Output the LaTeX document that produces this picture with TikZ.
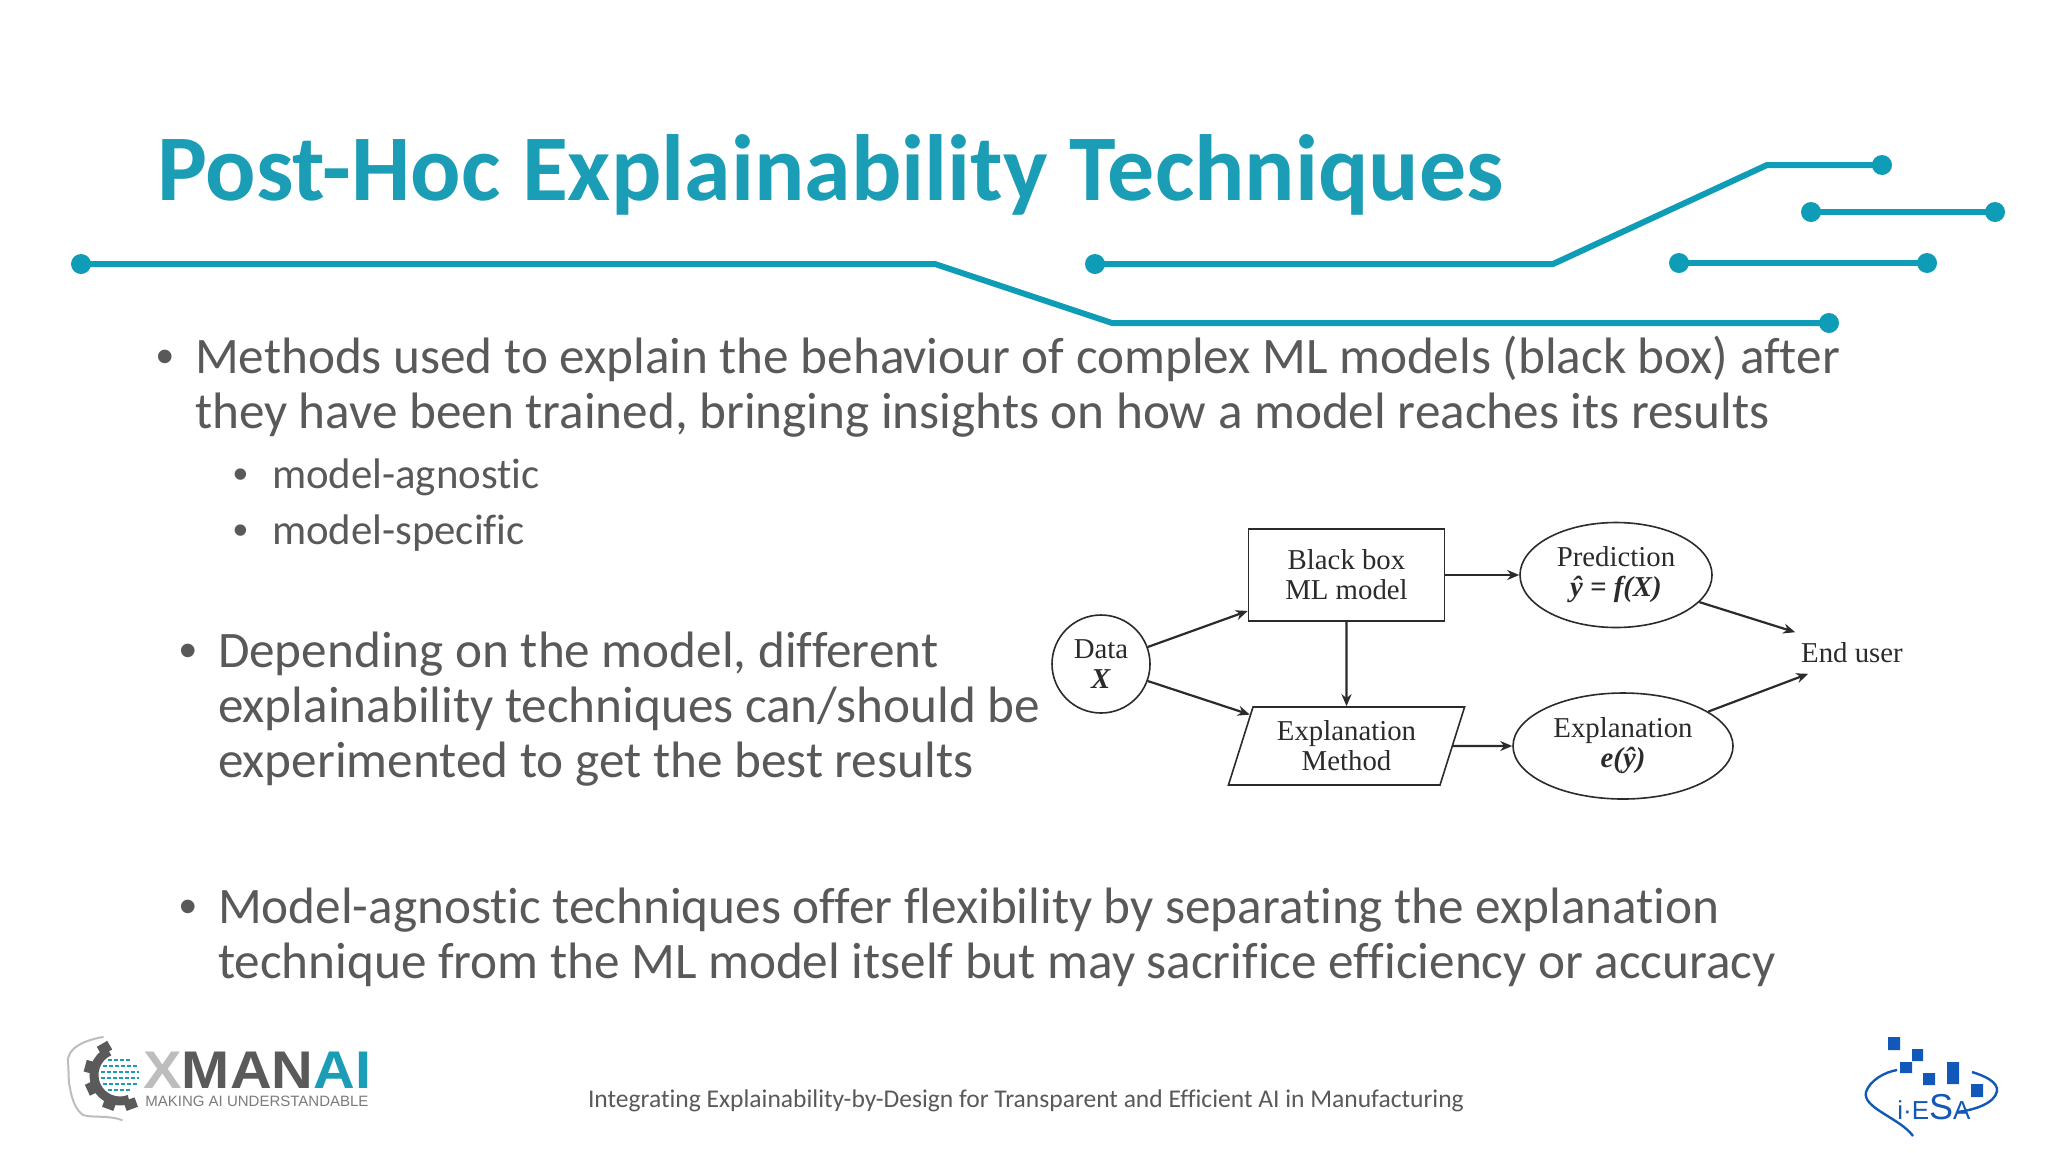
\documentclass[tikz,border=0pt]{standalone}
\usepackage{fontspec}
\usepackage{graphicx}
\setmainfont[Ligatures=CommonOff]{Carlito}
\newfontfamily\serifdiag{Liberation Serif}
\newfontfamily\logofont{Liberation Sans}
\usetikzlibrary{shapes.geometric,arrows.meta,calc}
\definecolor{teal1}{HTML}{1A9DB5}
\definecolor{trace}{HTML}{0E9CB6}
\definecolor{bodygray}{HTML}{595959}
\definecolor{ink}{HTML}{2B2B2B}
\definecolor{iesablue}{HTML}{1258B8}
\definecolor{xdark}{HTML}{5A5A5A}
\definecolor{xlight}{HTML}{BDBDBD}
\tikzset{
  x=0.5pt,y=-0.5pt,
  txt/.style={anchor=base west,inner sep=0pt,outer sep=0pt,text=bodygray},
  titletext/.style={txt,text=teal1,font=\fontsize{47}{50}\selectfont\bfseries},
  mainline/.style={txt,font=\fontsize{25.6}{29}\selectfont},
  subline/.style={txt,font=\fontsize{21.4}{25}\selectfont},
  mainbullet/.style={txt,font=\logofont\fontsize{25}{29}\selectfont},
  subbullet/.style={txt,font=\logofont\fontsize{21}{25}\selectfont},
  foot/.style={txt,font=\fontsize{12.77}{15}\selectfont},
  tracewire/.style={draw=trace,line width=3pt},
  dotend/.style={fill=trace,draw=none},
  diag/.style={draw=ink,line width=0.8pt,align=center,text=ink,inner sep=0pt,font=\serifdiag\fontsize{14.4}{15}\selectfont},
  conn/.style={draw=ink,line width=1.1pt,-{Stealth[length=6pt,width=5pt]}},
}
\begin{document}
\begin{tikzpicture}
\useasboundingbox[fill=white] (0,0) rectangle (2048,1152);
% circuit traces
\draw[tracewire] (81,264) -- (935,264) -- (1112,323) -- (1829,323);
\draw[tracewire] (1095,264) -- (1553,264) -- (1767,165) -- (1882,165);
\draw[tracewire] (1811,212) -- (1995,212);
\draw[tracewire] (1679,263) -- (1927,263);
\foreach \p in {(81,264),(1829,323),(1095,264),(1882,165),(1811,212),(1995,212),(1679,263),(1927,263)}
  \fill[dotend] \p circle (5pt);
% texts
\node[titletext] (title) at (157,200) {Post-Hoc Explainability Techniques};
\node[mainbullet] (b1) at (156,373) {•};
\node[mainline] (t1a) at (195,373) {Methods used to explain the behaviour of complex ML models (black box) after};
\node[mainline] (t1b) at (195,428) {they have been trained, bringing insights on how a model reaches its results};
\node[subbullet] (b1a) at (233,488) {•};
\node[subline] (t1c) at (272,488) {model-agnostic};
\node[subbullet] (b1b) at (233,544) {•};
\node[subline] (t1d) at (272,544) {model-specific};
\node[mainbullet] (b2) at (179,667) {•};
\node[mainline] (t2a) at (218,667) {Depending on the model, different};
\node[mainline] (t2b) at (218,722) {explainability techniques can/should be};
\node[mainline] (t2c) at (218,777) {experimented to get the best results};
\node[mainbullet] (b3) at (179,923) {•};
\node[mainline] (t3a) at (218,923) {Model-agnostic techniques offer flexibility by separating the explanation};
\node[mainline] (t3b) at (218,978) {technique from the ML model itself but may sacrifice efficiency or accuracy};
\node[foot] (footer) at (588,1107) {Integrating Explainability-by-Design for Transparent and Efficient AI in Manufacturing};
% diagram
\node[diag,circle,minimum size=49pt] (data) at (1101,664) {Data\\\textbf{\textit{X}}};
\node[diag,rectangle,minimum width=98pt,minimum height=46pt] (bb) at (1346.5,575) {Black box\\ML model};
\node[diag,ellipse,minimum width=96pt,minimum height=52.5pt] (pred) at (1616,575) {Prediction\\\textbf{\textit{ŷ = f(X)}}};
\node[diag,trapezium,trapezium left angle=70,trapezium right angle=110,minimum width=119pt,minimum height=39pt,trapezium stretches=true] (meth) at (1346.5,746) {Explanation\\Method};
\node[diag,ellipse,minimum width=110pt,minimum height=53pt] (expl) at (1623,746) {Explanation\\\textbf{\textit{e(ŷ)}}};
\node[diag,draw=none,minimum width=56pt,minimum height=20pt] (enduser) at (1852,653) {End user};
\draw[conn] (data.20) -- (bb.200);
\draw[conn] (data.-20) -- (meth.162);
\draw[conn] (bb.south) -- (meth.north);
\draw[conn] (bb.east) -- (pred.west);
\draw[conn] (meth.east) -- (expl.west);
\draw[conn] (pred.-18) -- (enduser.north west);
\draw[conn] (expl.22) -- ([xshift=6.5pt]enduser.south west);
% XMANAI logo
\draw[xlight,line width=1pt,line cap=round] (103,1037) .. controls (85,1040) and (66,1048) .. (68,1063) .. controls (69,1072) and (68,1080) .. (70,1088) .. controls (72,1100) and (76,1110) .. (83,1115) .. controls (92,1118) and (108,1115) .. (122,1120);
\foreach \a in {120,165,205,250,290}
  \fill[xdark,rotate around={\a:(120,1075)}] (146,1069) rectangle (156,1081);
\draw[xdark,line width=4.5pt] (109,1051.4) arc[start angle=-115,delta angle=-175,radius=26];
\foreach \yy/\rr in {1060/12,1066/17,1072/19,1078/19,1084/17,1090/12}
  \draw[teal1,line width=1.2pt,dash pattern=on 2pt off 1pt] ({120-\rr},\yy) -- ({120+\rr},\yy);
\node[anchor=base west,inner sep=0pt,font=\logofont\bfseries\fontsize{26.5}{27}\selectfont] (xlogo) at (143,1088) {\scalebox{1.09}[1]{\textcolor{xlight}{X}\textcolor{xdark}{MAN}\textcolor{teal1}{AI}}};
\node[anchor=base west,inner sep=0pt,text=xdark!80,font=\logofont\fontsize{7.5}{8}\selectfont] (xtag) at (145,1106) {MAKING AI UNDERSTANDABLE};
% i-ESA logo
\fill[iesablue] (1888,1037) rectangle (1900,1050) (1912,1049) rectangle (1923,1061) (1900,1062) rectangle (1912,1073) (1923,1073) rectangle (1935,1085) (1947,1062) rectangle (1959,1084) (1971,1084) rectangle (1983,1097);
\draw[iesablue,line width=1.2pt] (1913,1136) .. controls (1900,1118) and (1862,1108) .. (1866,1092) .. controls (1870,1080) and (1885,1072) .. (1897,1070);
\draw[iesablue,line width=1.2pt] (1972,1072) .. controls (1985,1076) and (1998,1082) .. (1997,1091) .. controls (1995,1103) and (1975,1110) .. (1957,1112);
\node[anchor=base west,inner sep=0pt,text=iesablue,font=\logofont\fontsize{13}{13}\selectfont] (ilogo) at (1897,1119) {i·E{\fontsize{18}{18}\selectfont S}A};
\end{tikzpicture}
\end{document}
